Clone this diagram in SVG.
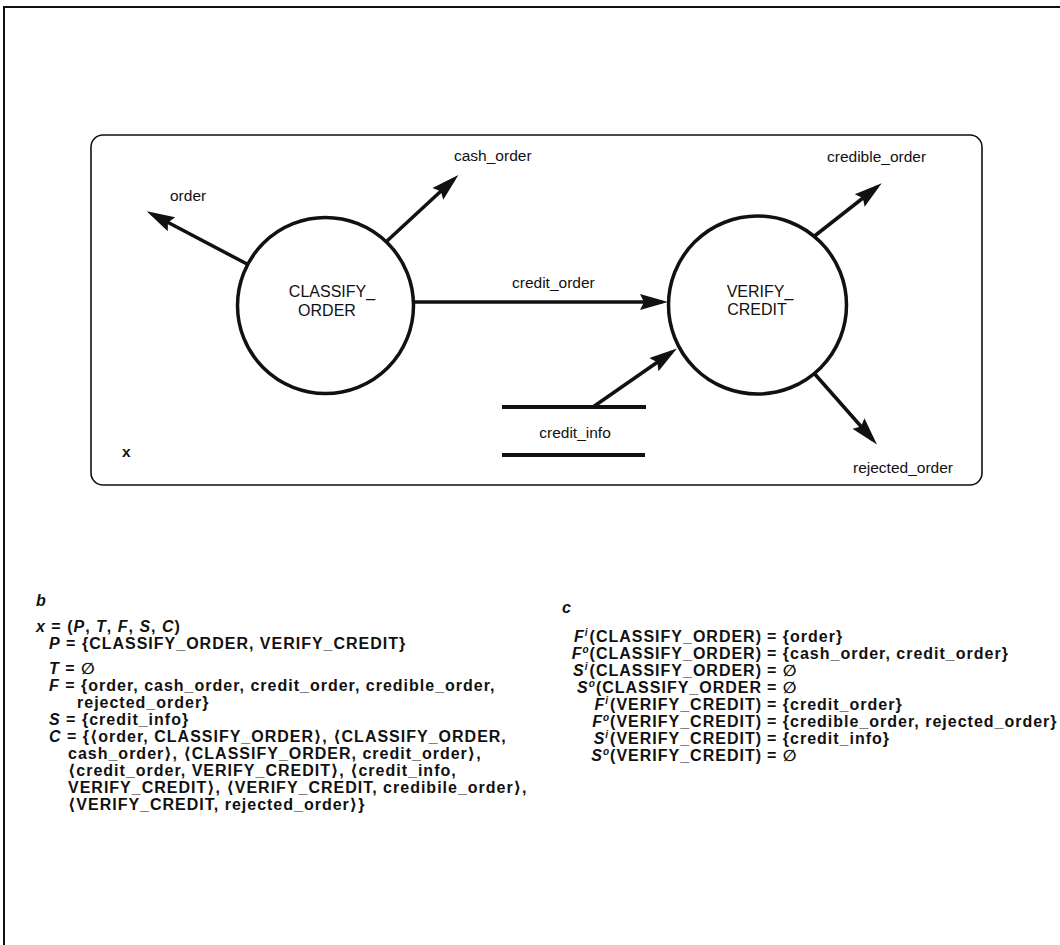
<svg xmlns="http://www.w3.org/2000/svg" width="1060" height="945" viewBox="0 0 1060 945">
<style>
  .frame{fill:none;stroke:#111;stroke-width:2}
  .box{fill:none;stroke:#111;stroke-width:1.6}
  .proc{fill:#fff;stroke:#111;stroke-width:3.5}
  .flow{fill:none;stroke:#111;stroke-width:3.5}
  .store{fill:none;stroke:#111;stroke-width:4}
  .lbl{font-family:"Liberation Sans","DejaVu Sans",sans-serif;font-size:15.5px;fill:#111}
  .ptx{font-family:"Liberation Sans","DejaVu Sans",sans-serif;font-size:16px;fill:#111;text-anchor:middle}
  .math{font-family:"Liberation Sans","DejaVu Sans",sans-serif;font-size:16px;font-weight:bold;letter-spacing:1px;fill:#111}
  .it{font-style:italic}
  .sup{font-style:italic;font-size:10px;letter-spacing:0}
  .end{text-anchor:end}
</style>
<defs>
  <marker id="ah" markerUnits="userSpaceOnUse" markerWidth="30" markerHeight="18" refX="22" refY="9" orient="auto">
    <path d="M0,1 L28,9 L0,17 L4,9 Z" fill="#111"/>
  </marker>
</defs>

<g id="frame">
  <line class="frame" x1="3" y1="7" x2="1060" y2="7"/>
  <line class="frame" x1="4" y1="6" x2="4" y2="945"/>
</g>

<g id="context-box">
  <rect class="box" x="91" y="135" width="891" height="350" rx="12"/>
  <text class="lbl" x="122" y="457" font-weight="bold">x</text>
</g>

<g id="connectors">
  <line class="flow" x1="247" y1="264" x2="152" y2="214" marker-end="url(#ah)"/>
  <line class="flow" x1="387" y1="241" x2="454" y2="179" marker-end="url(#ah)"/>
  <line class="flow" x1="414" y1="302" x2="662" y2="302" marker-end="url(#ah)"/>
  <line class="flow" x1="593" y1="407" x2="672" y2="352" marker-end="url(#ah)"/>
  <line class="flow" x1="812" y1="238" x2="877" y2="187" marker-end="url(#ah)"/>
  <line class="flow" x1="813" y1="372" x2="873" y2="440" marker-end="url(#ah)"/>
  <text class="lbl" x="170" y="201">order</text>
  <text class="lbl" x="454" y="161">cash_order</text>
  <text class="lbl" x="512" y="288">credit_order</text>
  <text class="lbl" x="827" y="162">credible_order</text>
  <text class="lbl" x="853" y="473">rejected_order</text>
</g>

<g id="CLASSIFY_ORDER">
  <circle class="proc" cx="325.5" cy="305.5" r="88"/>
  <text class="ptx" x="332" y="297">CLASSIFY_</text>
  <text class="ptx" x="327" y="316">ORDER</text>
</g>

<g id="VERIFY_CREDIT">
  <circle class="proc" cx="757.5" cy="305" r="89"/>
  <text class="ptx" x="760" y="297">VERIFY_</text>
  <text class="ptx" x="757" y="315">CREDIT</text>
</g>

<g id="credit_info">
  <line class="store" x1="502" y1="407" x2="646" y2="407"/>
  <line class="store" x1="502" y1="455" x2="645" y2="455"/>
  <text class="lbl" x="575" y="438" text-anchor="middle">credit_info</text>
</g>

<g id="panel-b" class="math">
  <text x="36" y="606" class="it">b</text>
  <text x="36" y="632"><tspan class="it">x</tspan> = (<tspan class="it">P</tspan>, <tspan class="it">T</tspan>, <tspan class="it">F</tspan>, <tspan class="it">S</tspan>, <tspan class="it">C</tspan>)</text>
  <text x="49" y="649"><tspan class="it">P</tspan> = {CLASSIFY_ORDER, VERIFY_CREDIT}</text>
  <text x="49" y="674"><tspan class="it">T</tspan> = <tspan class="it">∅</tspan></text>
  <text x="49" y="691"><tspan class="it">F</tspan> = {order, cash_order, credit_order, credible_order,</text>
  <text x="77" y="708">rejected_order}</text>
  <text x="49" y="725"><tspan class="it">S</tspan> = {credit_info}</text>
  <text x="49" y="742"><tspan class="it">C</tspan> = {⟨order, CLASSIFY_ORDER⟩, ⟨CLASSIFY_ORDER,</text>
  <text x="68" y="759">cash_order⟩, ⟨CLASSIFY_ORDER, credit_order⟩,</text>
  <text x="68" y="776">⟨credit_order, VERIFY_CREDIT⟩, ⟨credit_info,</text>
  <text x="68" y="793">VERIFY_CREDIT⟩, ⟨VERIFY_CREDIT, credibile_order⟩,</text>
  <text x="68" y="810">⟨VERIFY_CREDIT, rejected_order⟩}</text>
</g>

<g id="panel-c" class="math">
  <text x="562" y="613" class="it">c</text>
  <text x="762" y="642" class="end"><tspan class="it">F</tspan><tspan class="sup" dy="-6">i</tspan><tspan dy="6" dx="2">(CLASSIFY_ORDER)</tspan></text>
  <text x="767" y="642">= {order}</text>
  <text x="762" y="659" class="end"><tspan class="it">F</tspan><tspan class="sup" dy="-6">o</tspan><tspan dy="6" dx="1">(CLASSIFY_ORDER)</tspan></text>
  <text x="767" y="659">= {cash_order, credit_order}</text>
  <text x="762" y="676" class="end"><tspan class="it">S</tspan><tspan class="sup" dy="-6">i</tspan><tspan dy="6" dx="2">(CLASSIFY_ORDER)</tspan></text>
  <text x="767" y="676">= <tspan class="it">∅</tspan></text>
  <text x="762" y="693" class="end"><tspan class="it">S</tspan><tspan class="sup" dy="-6">o</tspan><tspan dy="6" dx="1">(CLASSIFY_ORDER</tspan></text>
  <text x="767" y="693">= <tspan class="it">∅</tspan></text>
  <text x="762" y="710" class="end"><tspan class="it">F</tspan><tspan class="sup" dy="-6">i</tspan><tspan dy="6" dx="2">(VERIFY_CREDIT)</tspan></text>
  <text x="767" y="710">= {credit_order}</text>
  <text x="762" y="727" class="end"><tspan class="it">F</tspan><tspan class="sup" dy="-6">o</tspan><tspan dy="6" dx="1">(VERIFY_CREDIT)</tspan></text>
  <text x="767" y="727">= {credible_order, rejected_order}</text>
  <text x="762" y="744" class="end"><tspan class="it">S</tspan><tspan class="sup" dy="-6">i</tspan><tspan dy="6" dx="2">(VERIFY_CREDIT)</tspan></text>
  <text x="767" y="744">= {credit_info}</text>
  <text x="762" y="761" class="end"><tspan class="it">S</tspan><tspan class="sup" dy="-6">o</tspan><tspan dy="6" dx="1">(VERIFY_CREDIT)</tspan></text>
  <text x="767" y="761">= <tspan class="it">∅</tspan></text>
</g>
</svg>
